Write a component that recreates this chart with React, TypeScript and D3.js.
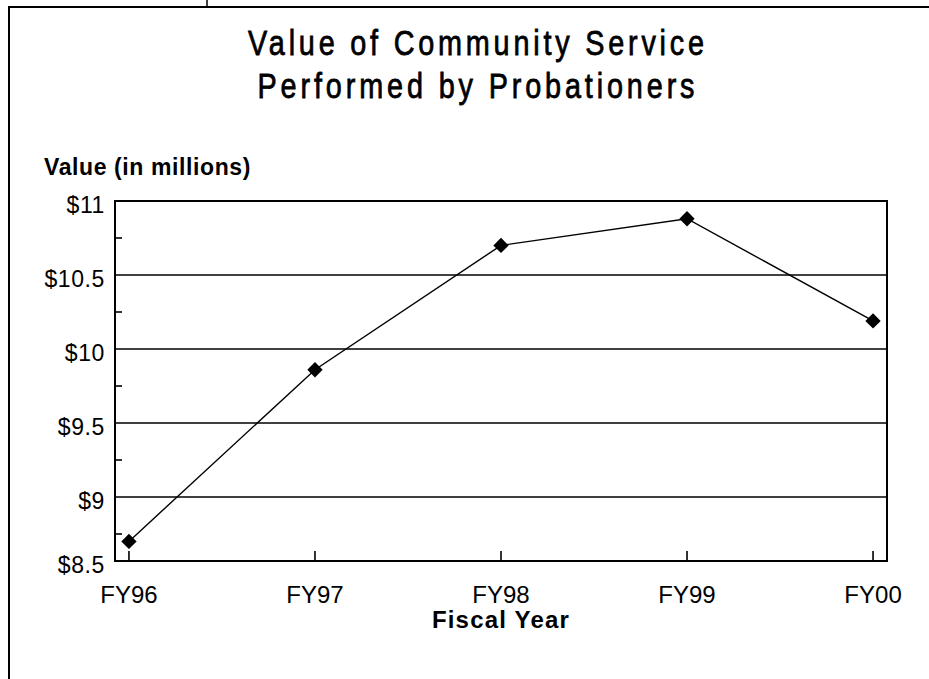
import React, { useEffect, useRef } from 'react';
import * as d3 from 'd3';

const years = ['FY96', 'FY97', 'FY98', 'FY99', 'FY00'];
const values = [8.7, 9.86, 10.7, 10.88, 10.19];
const yTicks = [8.5, 9, 9.5, 10, 10.5, 11];
const yMinorTicks = [8.75, 9.25, 9.75, 10.25, 10.75];
const titleLines = ['Value of Community Service', 'Performed by Probationers'];

export default function App() {
  const ref = useRef<SVGSVGElement>(null);

  useEffect(() => {
    const width = 929;
    const height = 679;
    const left = 115;
    const right = 887;
    const top = 201;
    const plotBottom = 561; // frame bottom sits a little above the 8.5 line
    const font = '"Liberation Sans", Arial, Helvetica, sans-serif';

    const svg = d3.select(ref.current);
    svg.selectAll('*').remove();
    svg.attr('width', width).attr('height', height);

    // outer border (runs off the right / bottom of the picture)
    svg.append('rect')
      .attr('x', 9).attr('y', 7)
      .attr('width', 960).attr('height', 720)
      .attr('fill', 'none').attr('stroke', '#000').attr('stroke-width', 2);
    svg.append('line')
      .attr('x1', 207).attr('x2', 207).attr('y1', 0).attr('y2', 7)
      .attr('stroke', '#000').attr('stroke-width', 1.5);

    // title - condensed look by squeezing Liberation Sans horizontally
    const squeeze = 0.8;
    const titleWidths = [456, 437];
    titleLines.forEach((t, i) => {
      svg.append('text')
        .attr('transform', `translate(476,${55 + i * 43}) scale(${squeeze},1)`)
        .attr('x', 0)
        .attr('y', 0)
        .attr('text-anchor', 'middle')
        .attr('font-family', font)
        .attr('font-size', 36)
        .attr('textLength', titleWidths[i] / squeeze)
        .attr('lengthAdjust', 'spacing')
        .attr('fill', '#000')
        .attr('stroke', '#000')
        .attr('stroke-width', 0.8)
        .text(t);
    });

    const x = d3.scaleLinear().domain([-0.075, years.length - 1 + 0.075]).range([left, right]);
    const y = d3.scaleLinear().domain([8.5, 11]).range([571, top]);

    // gridlines
    svg.append('g')
      .selectAll('line')
      .data(yTicks.filter((v) => v > 8.5 && v < 11))
      .join('line')
      .attr('x1', left).attr('x2', right)
      .attr('y1', (d) => y(d)).attr('y2', (d) => y(d))
      .attr('stroke', '#000').attr('stroke-width', 1.6);

    // minor ticks on the y axis, pointing in
    svg.append('g')
      .selectAll('line')
      .data(yMinorTicks)
      .join('line')
      .attr('x1', left).attr('x2', left + 7)
      .attr('y1', (d) => y(d)).attr('y2', (d) => y(d))
      .attr('stroke', '#000').attr('stroke-width', 1.6);

    // x ticks pointing up
    svg.append('g')
      .selectAll('line')
      .data(years)
      .join('line')
      .attr('x1', (_, i) => x(i)).attr('x2', (_, i) => x(i))
      .attr('y1', plotBottom).attr('y2', plotBottom - 10)
      .attr('stroke', '#000').attr('stroke-width', 1.6);

    // plot frame
    svg.append('rect')
      .attr('x', left).attr('y', top)
      .attr('width', right - left).attr('height', plotBottom - top)
      .attr('fill', 'none').attr('stroke', '#000').attr('stroke-width', 2);

    // y tick labels
    svg.append('g')
      .selectAll('text')
      .data(yTicks)
      .join('text')
      .attr('x', 105)
      .attr('y', (d) => Math.min(y(d), plotBottom) + 4)
      .attr('dy', '0.35em')
      .attr('text-anchor', 'end')
      .attr('font-family', font)
      .attr('font-size', 23)
      .attr('letter-spacing', 0.6)
      .attr('fill', '#000')
      .text((d) => `$${d}`);

    // x tick labels
    svg.append('g')
      .selectAll('text')
      .data(years)
      .join('text')
      .attr('x', (_, i) => x(i))
      .attr('y', 603)
      .attr('text-anchor', 'middle')
      .attr('font-family', font)
      .attr('font-size', 24)
      .attr('fill', '#000')
      .text((d) => d);

    // axis titles
    svg.append('text')
      .attr('x', 501).attr('y', 628)
      .attr('text-anchor', 'middle')
      .attr('font-family', font)
      .attr('font-weight', 'bold')
      .attr('font-size', 24)
      .attr('letter-spacing', 1.2)
      .attr('fill', '#000')
      .text('Fiscal Year');

    svg.append('text')
      .attr('x', 44).attr('y', 175)
      .attr('font-family', font)
      .attr('font-weight', 'bold')
      .attr('font-size', 23)
      .attr('letter-spacing', 0.6)
      .attr('fill', '#000')
      .text('Value (in millions)');

    // series
    const line = d3.line<number>()
      .x((_, i) => x(i))
      .y((d) => y(d));

    svg.append('path')
      .datum(values)
      .attr('fill', 'none')
      .attr('stroke', '#000')
      .attr('stroke-width', 1.4)
      .attr('d', line);

    const diamond = d3.symbol().type(d3.symbolDiamond2).size(150);
    svg.append('g')
      .selectAll('path')
      .data(values)
      .join('path')
      .attr('transform', (d, i) => `translate(${x(i)},${y(d)})`)
      .attr('d', diamond)
      .attr('fill', '#000');
  }, []);

  return (
    <svg
      ref={ref}
      style={{ position: 'absolute', left: 0, top: 0, background: '#fff' }}
    />
  );
}
